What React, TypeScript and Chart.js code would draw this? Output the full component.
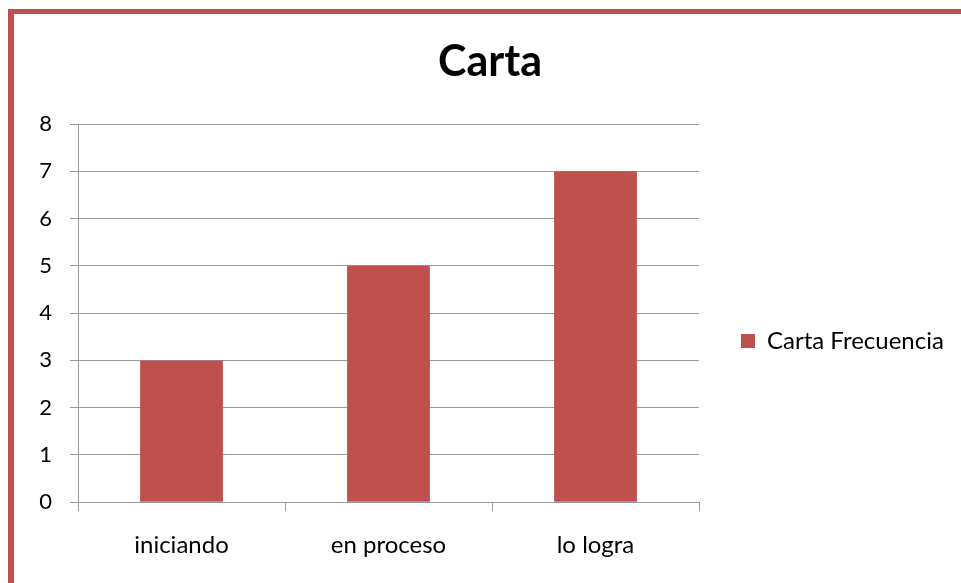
import React, { useEffect, useRef } from "react";
import { Chart, registerables } from "chart.js";

Chart.register(...registerables);

const categories = ["iniciando", "en proceso", "lo logra"];
const seriesName = "Carta Frecuencia";
const seriesValues = [3, 5, 7];
const chartTitle = "Carta";
const yMin = 0;
const yMax = 8;
const yStep = 1;

const RED = "#C0504D";
const GRID = "#9a9a9a";
const FONT = "Lato, 'Open Sans', sans-serif";

export default function App() {
  const ref = useRef<HTMLCanvasElement | null>(null);

  useEffect(() => {
    if (!ref.current) return;
    const chart = new Chart(ref.current, {
      type: "bar",
      data: {
        labels: categories,
        datasets: [
          {
            label: seriesName,
            data: seriesValues,
            backgroundColor: RED,
            borderWidth: 0,
            barPercentage: 0.4,
            categoryPercentage: 1.0,
          },
        ],
      },
      options: {
        animation: false,
        responsive: false,
        devicePixelRatio: 1,
        layout: { padding: { left: 27, right: 8, top: 0, bottom: 3 } },
        plugins: {
          title: {
            display: true,
            text: chartTitle,
            color: "#000",
            font: { family: FONT, size: 43, weight: "bold", lineHeight: 1.2 },
            padding: { top: 36, bottom: 36.4 },
          },
          legend: {
            display: true,
            position: "right",
            maxWidth: 254,
            title: {
              display: true,
              text: " ",
              font: { size: 10, lineHeight: 1.2 },
              padding: { top: 0, bottom: 90 },
            },
            labels: {
              boxWidth: 14,
              boxHeight: 14,
              padding: 42,
              color: "#000",
              font: { family: FONT, size: 24 },
            },
          },
          tooltip: { enabled: false },
        },
        scales: {
          x: {
            grid: {
              offset: true,
              drawOnChartArea: false,
              drawTicks: true,
              tickLength: 9,
              color: GRID,
            },
            border: { color: GRID },
            ticks: {
              color: "#000",
              padding: 20,
              font: { family: FONT, size: 24 },
            },
          },
          y: {
            min: yMin,
            max: yMax,
            afterFit: (scale: any) => {
              scale.width = 51;
            },
            ticks: {
              stepSize: yStep,
              color: "#000",
              padding: 18,
              font: { family: FONT, size: 22 },
            },
            grid: { color: GRID, tickLength: 8 },
            border: { color: GRID },
          },
        },
      },
    });
    return () => chart.destroy();
  }, []);

  return (
    <>
      <div
        style={{
          position: "fixed",
          left: 8,
          top: 9,
          right: -50,
          bottom: -50,
          borderTop: `5px solid ${RED}`,
          borderLeft: `6px solid ${RED}`,
        }}
      />
      <div style={{ position: "fixed", left: 0, top: 0, width: 961, height: 583 }}>
        <canvas ref={ref} width={961} height={583} />
      </div>
    </>
  );
}
